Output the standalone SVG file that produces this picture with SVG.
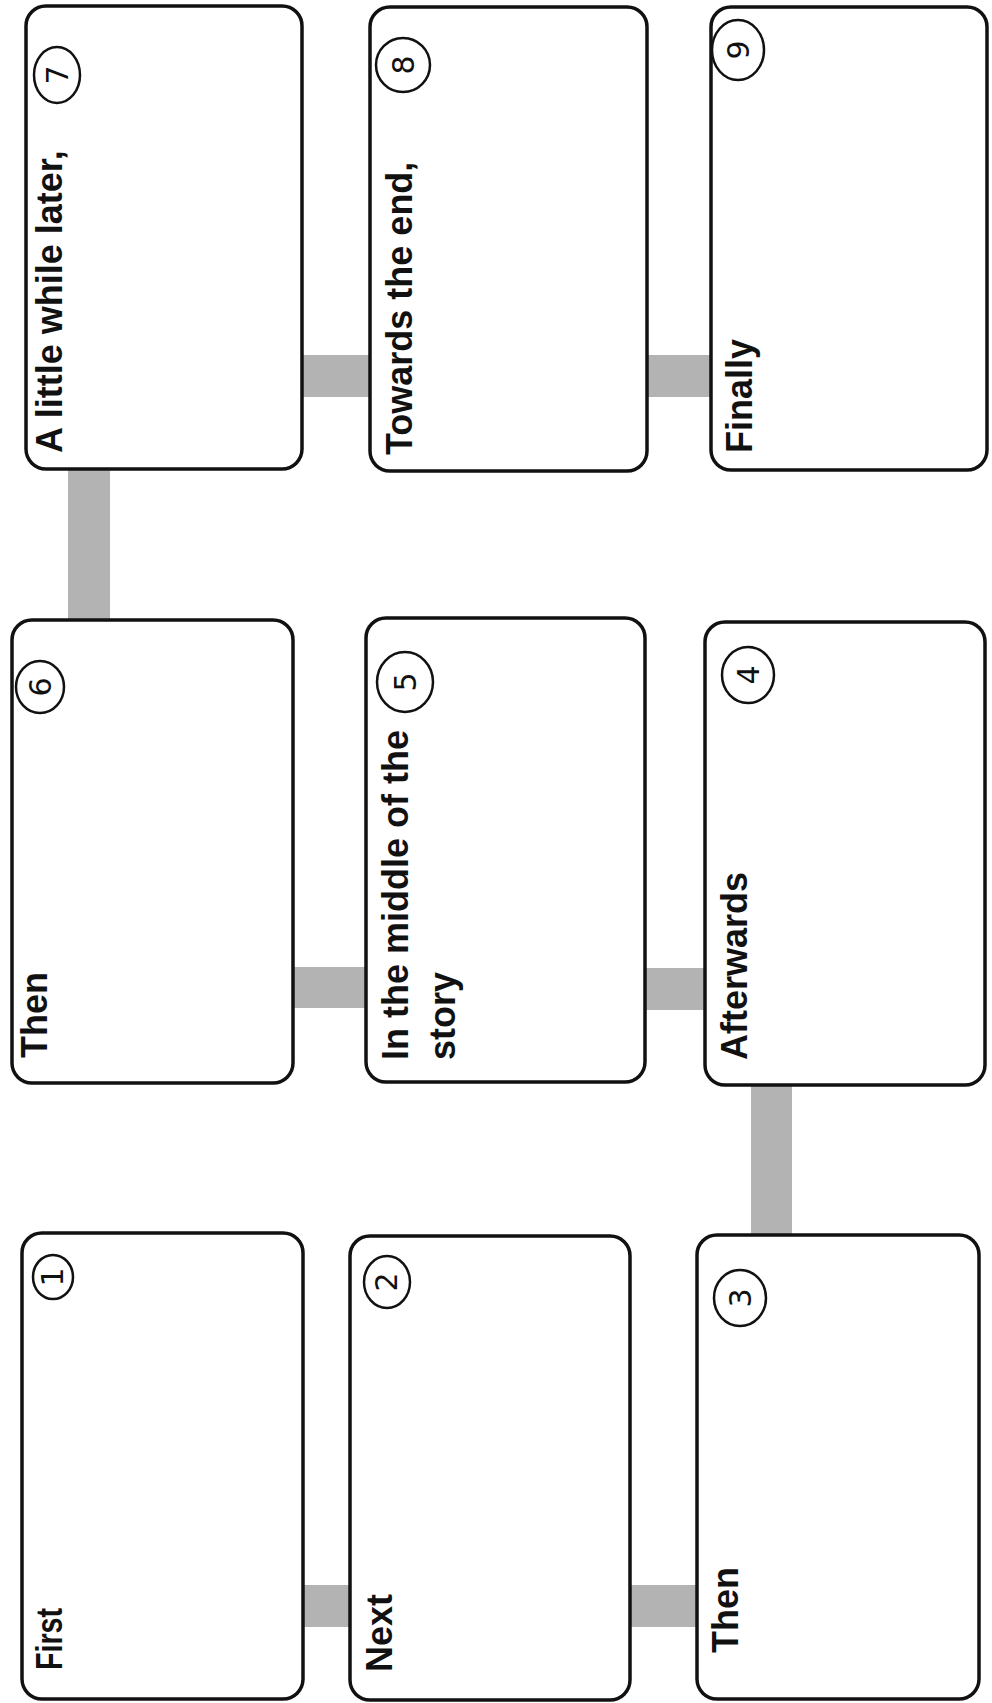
<svg xmlns="http://www.w3.org/2000/svg" width="992" height="1703" viewBox="0 0 992 1703">
<style>
.bg{fill:#ffffff}
.conn{fill:#b3b3b3}
.box{fill:#ffffff;stroke:#111111;stroke-width:3.5}
.lbl{font-family:"Liberation Sans",Arial,sans-serif;font-weight:bold;font-size:36px;fill:#111111}
.num{fill:none;stroke:#111111;stroke-width:2.5}
.numt{font-family:"DejaVu Sans",sans-serif;font-size:30px;fill:#111111;text-anchor:middle}
</style>
<rect class="bg" x="0" y="0" width="992" height="1703"/>
<g id="connectors">
<rect class="conn" x="300" y="355" width="70" height="42"/>
<rect class="conn" x="645" y="355" width="67" height="42"/>
<rect class="conn" x="68" y="465" width="42" height="157"/>
<rect class="conn" x="290" y="967" width="77" height="41"/>
<rect class="conn" x="643" y="968" width="63" height="42"/>
<rect class="conn" x="751" y="1083" width="41" height="154"/>
<rect class="conn" x="300" y="1585" width="50" height="42"/>
<rect class="conn" x="628" y="1585" width="70" height="42"/>
</g>
<g id="node7">
<rect class="box" x="26" y="6" width="276" height="463" rx="20"/>
<text class="lbl" transform="translate(62,453) rotate(-90)">A little while later,</text>
<ellipse class="num" cx="57" cy="75" rx="23" ry="28"/>
<text class="numt" transform="translate(68,75) rotate(-90)">7</text>
</g>
<g id="node8">
<rect class="box" x="370" y="7" width="277" height="464" rx="20"/>
<text class="lbl" transform="translate(412,455) rotate(-90)">Towards the end,</text>
<ellipse class="num" cx="403" cy="65" rx="27" ry="27"/>
<text class="numt" transform="translate(414,65) rotate(-90)">8</text>
</g>
<g id="node9">
<rect class="box" x="711" y="7" width="276" height="463" rx="20"/>
<text class="lbl" transform="translate(752,453) rotate(-90)">Finally</text>
<ellipse class="num" cx="738" cy="50" rx="26" ry="30"/>
<text class="numt" transform="translate(749,50) rotate(-90)">9</text>
</g>
<g id="node6">
<rect class="box" x="12" y="620" width="281" height="463" rx="20"/>
<text class="lbl" transform="translate(47,1058) rotate(-90)">Then</text>
<ellipse class="num" cx="40" cy="687" rx="24" ry="26"/>
<text class="numt" transform="translate(51,687) rotate(-90)">6</text>
</g>
<g id="node5">
<rect class="box" x="366" y="618" width="279" height="464" rx="20"/>
<text class="lbl" transform="translate(408,1060) rotate(-90)">In the middle of the</text>
<text class="lbl" transform="translate(455,1060) rotate(-90)">story</text>
<ellipse class="num" cx="405" cy="682" rx="28" ry="30"/>
<text class="numt" transform="translate(416,682) rotate(-90)">5</text>
</g>
<g id="node4">
<rect class="box" x="705" y="622" width="280" height="463" rx="20"/>
<text class="lbl" transform="translate(747,1060) rotate(-90)">Afterwards</text>
<ellipse class="num" cx="748" cy="675" rx="26" ry="28"/>
<text class="numt" transform="translate(759,675) rotate(-90)">4</text>
</g>
<g id="node1">
<rect class="box" x="22" y="1233" width="281" height="466" rx="20"/>
<text class="lbl" transform="translate(62,1670) rotate(-90)" textLength="62" lengthAdjust="spacingAndGlyphs">First</text>
<ellipse class="num" cx="53" cy="1277" rx="20" ry="22"/>
<text class="numt" transform="translate(63,1277) rotate(-90)">1</text>
</g>
<g id="node2">
<rect class="box" x="350" y="1236" width="280" height="464" rx="20"/>
<text class="lbl" transform="translate(392,1672) rotate(-90)">Next</text>
<ellipse class="num" cx="387" cy="1282" rx="23" ry="26"/>
<text class="numt" transform="translate(397,1282) rotate(-90)">2</text>
</g>
<g id="node3">
<rect class="box" x="697" y="1235" width="282" height="464" rx="20"/>
<text class="lbl" transform="translate(738,1653) rotate(-90)">Then</text>
<ellipse class="num" cx="740" cy="1298" rx="26" ry="28"/>
<text class="numt" transform="translate(751,1298) rotate(-90)">3</text>
</g>
</svg>
